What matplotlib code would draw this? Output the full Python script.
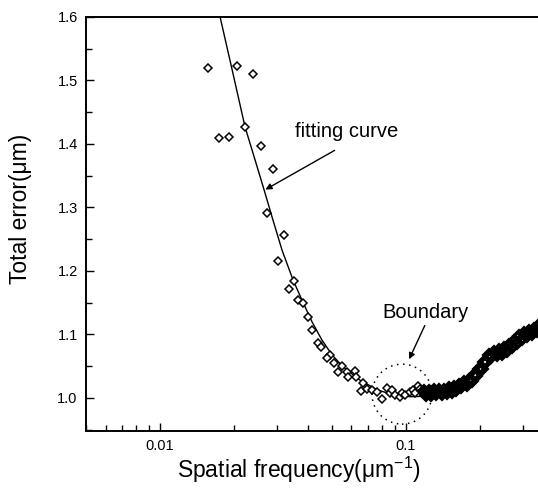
import matplotlib
matplotlib.use('Agg')
import matplotlib.pyplot as plt
from matplotlib.patches import Ellipse
from matplotlib.ticker import FixedLocator, NullFormatter

plt.rcParams['font.family'] = ['Liberation Sans', 'DejaVu Sans']
plt.rcParams['mathtext.fontset'] = 'custom'
plt.rcParams['mathtext.rm'] = 'Liberation Sans'

# measured points (spatial frequency, total error)
freq_sparse = [0.0157, 0.0206, 0.0239, 0.0174, 0.0191, 0.0222, 0.0258, 0.0288, 0.0272,
               0.0319, 0.0302, 0.0351, 0.0334, 0.0364, 0.0381, 0.0400, 0.0415, 0.0439,
               0.0451, 0.0491, 0.0477, 0.0509, 0.0550, 0.0530, 0.0575, 0.0581, 0.0621,
               0.0627, 0.0657, 0.0669, 0.0694, 0.0727, 0.0762, 0.0798, 0.0837, 0.0861,
               0.0877, 0.0902, 0.0946, 0.0964, 0.0991, 0.1038, 0.1066, 0.1088, 0.1119, 0.1140]
err_sparse = [1.520, 1.523, 1.510, 1.409, 1.411, 1.427, 1.397, 1.361, 1.291,
              1.257, 1.216, 1.184, 1.172, 1.154, 1.150, 1.128, 1.107, 1.087,
              1.080, 1.068, 1.063, 1.055, 1.050, 1.041, 1.041, 1.033, 1.043,
              1.033, 1.011, 1.024, 1.014, 1.013, 1.009, 0.998, 1.016, 1.008,
              1.013, 1.005, 1.002, 1.008, 1.005, 1.009, 1.013, 1.008, 1.019, 1.014]

# dense high-frequency part (overlapping markers form a thick band)
freq_dense = [0.1184, 0.1212, 0.1241, 0.1270, 0.1300, 0.1331, 0.1363, 0.1395, 0.1428,
              0.1462, 0.1496, 0.1532, 0.1568, 0.1605, 0.1643, 0.1682, 0.1722, 0.1763,
              0.1805, 0.1848, 0.1891, 0.1936, 0.1982, 0.2029, 0.2077, 0.2126, 0.2177,
              0.2228, 0.2281, 0.2335, 0.2391, 0.2447, 0.2505, 0.2565, 0.2625, 0.2688,
              0.2751, 0.2817, 0.2883, 0.2952, 0.3022, 0.3093, 0.3167, 0.3242, 0.3318,
              0.3397, 0.3470]
err_dense = [1.011, 1.005, 1.011, 1.005, 1.012, 1.006, 1.013, 1.006, 1.013,
             1.008, 1.016, 1.010, 1.018, 1.013, 1.021, 1.017, 1.025, 1.020,
             1.029, 1.026, 1.036, 1.035, 1.046, 1.046, 1.057, 1.057, 1.068,
             1.064, 1.072, 1.067, 1.075, 1.070, 1.078, 1.074, 1.083, 1.080,
             1.090, 1.087, 1.097, 1.093, 1.102, 1.097, 1.105, 1.101, 1.109,
             1.106, 1.115]

# fitting curve
fit_freq = [0.01754, 0.01963, 0.02215, 0.02433, 0.02647, 0.02879, 0.03132, 0.03472,
            0.03777, 0.04148, 0.04556, 0.05003, 0.05545, 0.06501, 0.07622, 0.08855,
            0.1038, 0.1288]
fit_err = [1.600, 1.517, 1.427, 1.375, 1.328, 1.280, 1.233, 1.186,
           1.154, 1.120, 1.091, 1.068, 1.049, 1.028, 1.013, 1.005,
           1.002, 1.003]

fig = plt.figure(figsize=(5.38, 4.93), dpi=100)
ax = fig.add_axes([0.160, 0.1258, 0.840, 0.8398])

ax.plot(fit_freq, fit_err, color='black', lw=1.0)
ax.plot(freq_sparse, err_sparse, 'D', ms=4.3, mfc='white', mec='black', mew=1.1, ls='none')
ax.plot(freq_dense, err_dense, 'D', ms=5.0, mfc='none', mec='black', mew=2.6, ls='none')

ax.set_xscale('log')
ax.set_xlim(0.005, 0.3444)
ax.set_ylim(0.948, 1.6)

ax.xaxis.set_major_locator(FixedLocator([0.01, 0.1]))
ax.set_xticklabels(['0.01', '0.1'])
ax.xaxis.set_minor_locator(FixedLocator([0.005, 0.006, 0.007, 0.008, 0.009,
                                         0.02, 0.03, 0.04, 0.05, 0.06, 0.07, 0.08, 0.09,
                                         0.2, 0.3]))
ax.xaxis.set_minor_formatter(NullFormatter())
ax.set_yticks([1.0, 1.1, 1.2, 1.3, 1.4, 1.5, 1.6])
ax.set_yticklabels(['1.0', '1.1', '1.2', '1.3', '1.4', '1.5', '1.6'])
ax.yaxis.set_minor_locator(FixedLocator([0.95, 1.05, 1.15, 1.25, 1.35, 1.45, 1.55]))

ax.tick_params(which='both', direction='in', top=False, right=False, width=1.0,
               labelsize=10.5, pad=6)
ax.tick_params(which='major', length=6)
ax.tick_params(which='minor', length=4)
ax.spines['right'].set_visible(False)
for s in ['left', 'bottom', 'top']:
    ax.spines[s].set_linewidth(1.4)

fig.text(299 / 538, 1 - 470 / 493, 'Spatial frequency(μm$^{\\mathregular{-1}}$)',
         fontsize=16.5, ha='center', va='center')
fig.text(21 / 538, 1 - 209 / 493, 'Total error(μm)', fontsize=16.5, rotation=90,
         ha='center', va='center')

ax.annotate('', xy=(0.02622, 1.326), xytext=(0.05241, 1.392),
            arrowprops=dict(arrowstyle='-|>', color='black', lw=1.0, mutation_scale=9))
ax.text(0.03539, 1.419, 'fitting curve', fontsize=14.5, ha='left', va='center')

ax.annotate('', xy=(0.1019, 1.057), xytext=(0.1206, 1.118),
            arrowprops=dict(arrowstyle='-|>', color='black', lw=1.0, mutation_scale=9))
ax.text(0.0799, 1.135, 'Boundary', fontsize=14.5, ha='left', va='center')

# dotted circle around the boundary region (radius ~30 px)
cx, cy = 0.0963, 1.006
ax_px = ax.bbox
center = ax.transAxes.inverted().transform(ax.transData.transform((cx, cy)))
circ = Ellipse(center, 60 / ax_px.width, 60 / ax_px.height, transform=ax.transAxes,
               fill=False, ec='black', lw=1.1, ls=(0, (1, 3)))
ax.add_patch(circ)

fig.savefig('out.png', dpi=100)
